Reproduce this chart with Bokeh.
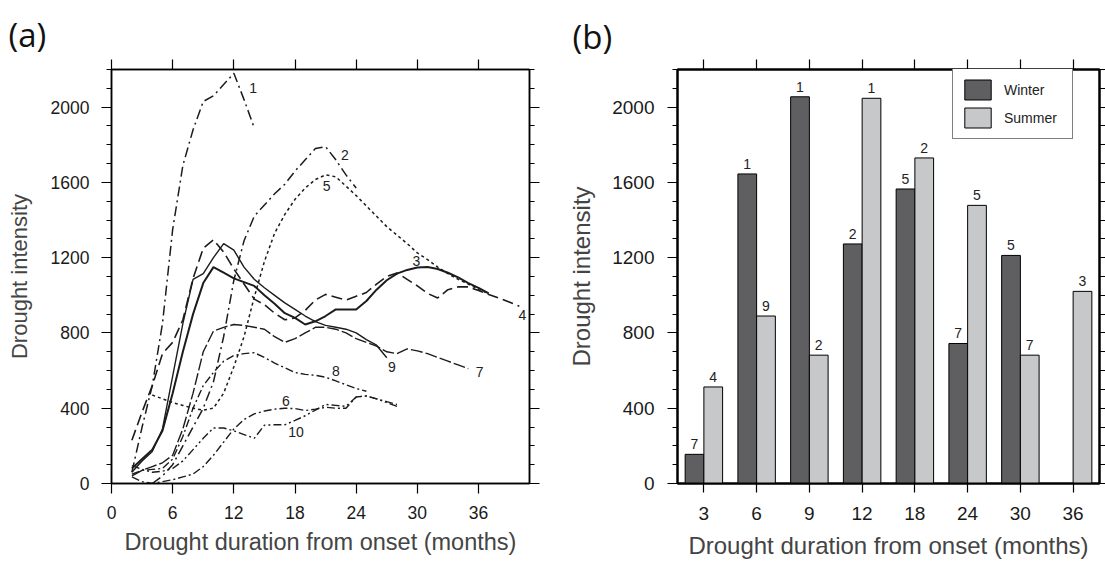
from bokeh.plotting import figure
from bokeh.layouts import row
from bokeh.models import (Range1d, LinearAxis, FixedTicker,
                          ColumnDataSource, Legend, LegendItem)
from bokeh.transform import dodge
from bokeh.core.properties import value
from bokeh.embed import file_html
from bokeh.resources import INLINE

FONT = "Liberation Sans"

# ---------------- Panel (a) data: drought intensity curves ----------------
s1_months = [2, 3, 4, 5, 6, 7, 8, 9, 10, 11, 12, 13, 14]
s1_values = [60, 300, 520, 850, 1350, 1690, 1880, 2030, 2060, 2120, 2180, 2040, 1890]

s2_months = [4, 5, 6, 7, 8, 9, 10, 11, 12, 13, 14, 15, 16, 17, 18, 19, 20, 21, 22, 23, 24]
s2_values = [0, 40, 100, 200, 300, 400, 540, 780, 1080, 1290, 1420, 1480, 1540, 1590, 1660,
             1720, 1780, 1790, 1720, 1640, 1570]

s3_months = list(range(2, 38))
s3_values = [80, 130, 180, 280, 480, 700, 900, 1065, 1150, 1120, 1090, 1070, 1050, 1000, 955,
             905, 880, 845, 862, 890, 925, 925, 925, 970, 1030, 1080, 1115, 1135, 1148, 1150,
             1140, 1120, 1095, 1065, 1040, 1010]

s4_months = list(range(2, 41))
s4_values = [230, 380, 520, 690, 750, 870, 1090, 1250, 1295, 1230, 1140, 1060, 980, 950, 905,
             870, 880, 920, 975, 1005, 990, 975, 995, 1015, 1060, 1100, 1119, 1085, 1050, 1010,
             986, 1030, 1045, 1045, 1025, 1005, 985, 965, 942]

s5_months = list(range(4, 38))
s5_values = [470, 450, 430, 415, 400, 390, 400, 480, 620, 780, 990, 1180, 1330, 1430, 1510,
             1570, 1615, 1640, 1630, 1580, 1530, 1475, 1420, 1365, 1320, 1275, 1225, 1190,
             1150, 1115, 1085, 1060, 1030, 1010]

s6_months = list(range(2, 29))
s6_values = [35, 10, 0, 10, 20, 35, 50, 90, 150, 220, 290, 340, 370, 385, 395, 400, 398, 388,
             395, 405, 400, 400, 460, 465, 450, 435, 420]

s7_months = list(range(2, 36))
s7_values = [40, 70, 90, 110, 150, 290, 480, 700, 810, 830, 845, 840, 830, 820, 780, 750, 770,
             800, 830, 830, 820, 800, 770, 750, 730, 700, 690, 715, 705, 690, 670, 650, 630, 610]

s8_months = list(range(2, 26))
s8_values = [50, 70, 75, 80, 130, 250, 400, 520, 590, 650, 680, 690, 695, 670, 640, 615, 590,
             580, 575, 565, 545, 525, 505, 490]

s9_months = list(range(2, 28))
s9_values = [60, 120, 170, 290, 570, 850, 1085, 1115, 1200, 1275, 1240, 1150, 1085, 1040, 1000,
             960, 925, 890, 860, 840, 830, 820, 800, 765, 735, 668]

s10_months = list(range(2, 29))
s10_values = [95, 75, 60, 65, 80, 120, 180, 240, 295, 295, 280, 260, 240, 310, 312, 312, 335,
              360, 390, 420, 415, 410, 460, 465, 450, 430, 410]

curve_names = ["1", "2", "5", "3", "4", "6", "7", "8", "9", "10"]
label_months = [13.9, 22.9, 21.1, 29.9, 40.3, 17.1, 36.1, 22.0, 27.5, 18.1]
label_values = [2100, 1745, 1580, 1180, 895, 440, 590, 596, 617, 272]

x_ticks_a = [0, 6, 12, 18, 24, 30, 36]
y_ticks = [0, 400, 800, 1200, 1600, 2000]
y_minor = [v for v in range(0, 2201, 100) if v % 400 != 0]

# ---------------- Panel (b) data: bar chart ----------------
durations = ["3", "6", "9", "12", "18", "24", "30", "36"]
winter = [155, 1645, 2055, 1273, 1565, 744, 1212, None]
summer = [513, 890, 682, 2047, 1730, 1478, 682, 1021]
winter_rank = ["7", "1", "1", "2", "5", "7", "5", ""]
summer_rank = ["4", "9", "2", "1", "2", "5", "7", "3"]


def style_axis(ax, labels=True, fs="17.5px", tick_out=10):
    ax.axis_line_color = "black"
    ax.axis_line_width = 1.5
    ax.major_tick_line_color = "black"
    ax.minor_tick_line_color = "black"
    ax.major_tick_line_width = 1.2
    ax.minor_tick_line_width = 1.2
    ax.major_tick_in = 0
    ax.major_tick_out = tick_out
    ax.minor_tick_in = 0
    ax.minor_tick_out = 5
    ax.major_label_text_font = FONT
    ax.major_label_text_color = "#1a1a1a"
    ax.major_label_text_font_size = fs
    if not labels:
        ax.major_label_standoff = 0
        ax.major_label_text_font_size = "0px"


def hide_labels(ax, ticks):
    ax.major_label_overrides = {t: "" for t in ticks}


# ======================= Panel (a) =======================
pa = figure(width=560, height=561, output_backend="svg", toolbar_location=None,
            x_range=Range1d(0, 41), y_range=Range1d(0, 2200),
            min_border_left=111, min_border_right=31, min_border_top=69, min_border_bottom=76)
pa.grid.visible = False
pa.outline_line_color = "black"
pa.outline_line_width = 1.5

pa.title.text = "(a)"
pa.title.text_font = "Open Sans"
pa.title.text_font_size = "33px"
pa.title.text_font_style = "normal"
pa.title.text_color = "#111111"
pa.title.align = "left"
pa.title.offset = -103
pa.title.standoff = 6

xa = pa.xaxis[0]
xa.ticker = FixedTicker(ticks=x_ticks_a)
style_axis(xa)
xa.major_label_standoff = 12
xa.axis_label = "Drought duration from onset (months)"
xa.axis_label_text_font = FONT
xa.axis_label_text_font_size = "23.5px"
xa.axis_label_text_font_style = "normal"
xa.axis_label_standoff = 7

ya = pa.yaxis[0]
ya.ticker = FixedTicker(ticks=y_ticks, minor_ticks=y_minor)
style_axis(ya)
ya.major_label_standoff = 12
ya.axis_label = "Drought intensity"
ya.axis_label_text_font = FONT
ya.axis_label_text_font_size = "22px"
ya.axis_label_text_font_style = "normal"
ya.axis_label_standoff = 16

ta = LinearAxis(ticker=FixedTicker(ticks=x_ticks_a))
style_axis(ta, labels=False)
hide_labels(ta, x_ticks_a)
pa.add_layout(ta, "above")
ra = LinearAxis(ticker=FixedTicker(ticks=y_ticks, minor_ticks=y_minor))
style_axis(ra, labels=False)
hide_labels(ra, y_ticks)
pa.add_layout(ra, "right")

series = [
    (s1_months, s1_values, "10 4 2 4", 1.5),
    (s2_months, s2_values, "10 4 2 4", 1.5),
    (s3_months, s3_values, "solid", 2.0),
    (s4_months, s4_values, "11 5", 1.6),
    (s5_months, s5_values, "3 3", 1.5),
    (s6_months, s6_values, "8 3 2 3", 1.4),
    (s7_months, s7_values, "12 3", 1.4),
    (s8_months, s8_values, "8 3 2 3", 1.4),
    (s9_months, s9_values, "solid", 1.4),
    (s10_months, s10_values, "8 3 2 3 2 3", 1.4),
]
for m, v, dash, w in series:
    pa.line(m, v, line_color="#1c1c1c", line_width=w, line_dash=dash)

pa.text(x=label_months, y=label_values, text=curve_names, text_font=value(FONT),
        text_font_size="14px", text_align="center", text_baseline="middle", text_color="#222222")

# ======================= Panel (b) =======================
n_cat = len(durations)
cat_pos = [i + 0.5 for i in range(n_cat)]

pb = figure(width=545, height=561, output_backend="svg", toolbar_location=None,
            x_range=Range1d(0, n_cat), y_range=Range1d(0, 2200),
            min_border_left=117, min_border_right=6, min_border_top=64, min_border_bottom=76)
pb.grid.visible = False
pb.outline_line_color = "black"
pb.outline_line_width = 2

pb.title.text = "(b)"
pb.title.text_font = "Open Sans"
pb.title.text_font_size = "33px"
pb.title.text_font_style = "normal"
pb.title.text_color = "#111111"
pb.title.align = "left"
pb.title.offset = -105
pb.title.standoff = 1

xb = pb.xaxis[0]
xb.ticker = FixedTicker(ticks=cat_pos)
style_axis(xb, fs="19px", tick_out=9)
xb.major_label_overrides = {p: d for p, d in zip(cat_pos, durations)}
xb.axis_line_width = 2
xb.major_label_standoff = 14
xb.axis_label = "Drought duration from onset (months)"
xb.axis_label_text_font = FONT
xb.axis_label_text_font_size = "24px"
xb.axis_label_text_font_style = "normal"
xb.axis_label_standoff = 9

yb = pb.yaxis[0]
yb.ticker = FixedTicker(ticks=y_ticks, minor_ticks=y_minor)
style_axis(yb, fs="19px")
yb.axis_line_width = 2
yb.major_label_standoff = 13
yb.axis_label = "Drought intensity"
yb.axis_label_text_font = FONT
yb.axis_label_text_font_size = "24px"
yb.axis_label_text_font_style = "normal"
yb.axis_label_standoff = 14

tb = LinearAxis(ticker=FixedTicker(ticks=cat_pos))
style_axis(tb, labels=False, tick_out=10)
hide_labels(tb, cat_pos)
tb.axis_line_width = 2
pb.add_layout(tb, "above")
rb = LinearAxis(ticker=FixedTicker(ticks=y_ticks, minor_ticks=y_minor))
style_axis(rb, labels=False, tick_out=6)
hide_labels(rb, y_ticks)
rb.minor_tick_out = 6
rb.axis_line_width = 2
pb.add_layout(rb, "right")

w_idx = [i for i, v in enumerate(winter) if v is not None]
src_w = ColumnDataSource(dict(pos=[cat_pos[i] for i in w_idx], val=[winter[i] for i in w_idx],
                              lab=[winter_rank[i] for i in w_idx]))
src_s = ColumnDataSource(dict(pos=cat_pos, val=summer, lab=summer_rank))

BW = 0.355
rw = pb.vbar(x=dodge("pos", -BW / 2), top="val", width=BW, source=src_w,
             fill_color="#5f5f61", line_color="black", line_width=1)
rs = pb.vbar(x=dodge("pos", BW / 2), top="val", width=BW, source=src_s,
             fill_color="#c7c8ca", line_color="black", line_width=1)

pb.text(x=dodge("pos", -BW / 2), y="val", text="lab", source=src_w,
        text_font=value(FONT), text_font_size="14px", text_align="center",
        text_baseline="bottom", y_offset=-5, text_color="#222222")
pb.text(x=dodge("pos", BW / 2), y="val", text="lab", source=src_s,
        text_font=value(FONT), text_font_size="14px", text_align="center",
        text_baseline="bottom", y_offset=-5, text_color="#222222")

legend = Legend(items=[LegendItem(label="Winter", renderers=[rw]),
                       LegendItem(label="Summer", renderers=[rs])],
                location=(275, 344), orientation="vertical")
legend.glyph_width = 33
legend.glyph_height = 25
legend.spacing = 3
legend.padding = 8
legend.margin = 0
legend.label_standoff = 10
legend.label_width = 60
legend.label_text_font = FONT
legend.label_text_font_size = "14px"
legend.label_text_color = "#222222"
legend.border_line_color = "black"
legend.border_line_width = 1
legend.background_fill_color = "white"
legend.background_fill_alpha = 1
pb.add_layout(legend, "center")

layout = row(pa, pb)
open("out.html", "w").write(file_html(layout, INLINE))
